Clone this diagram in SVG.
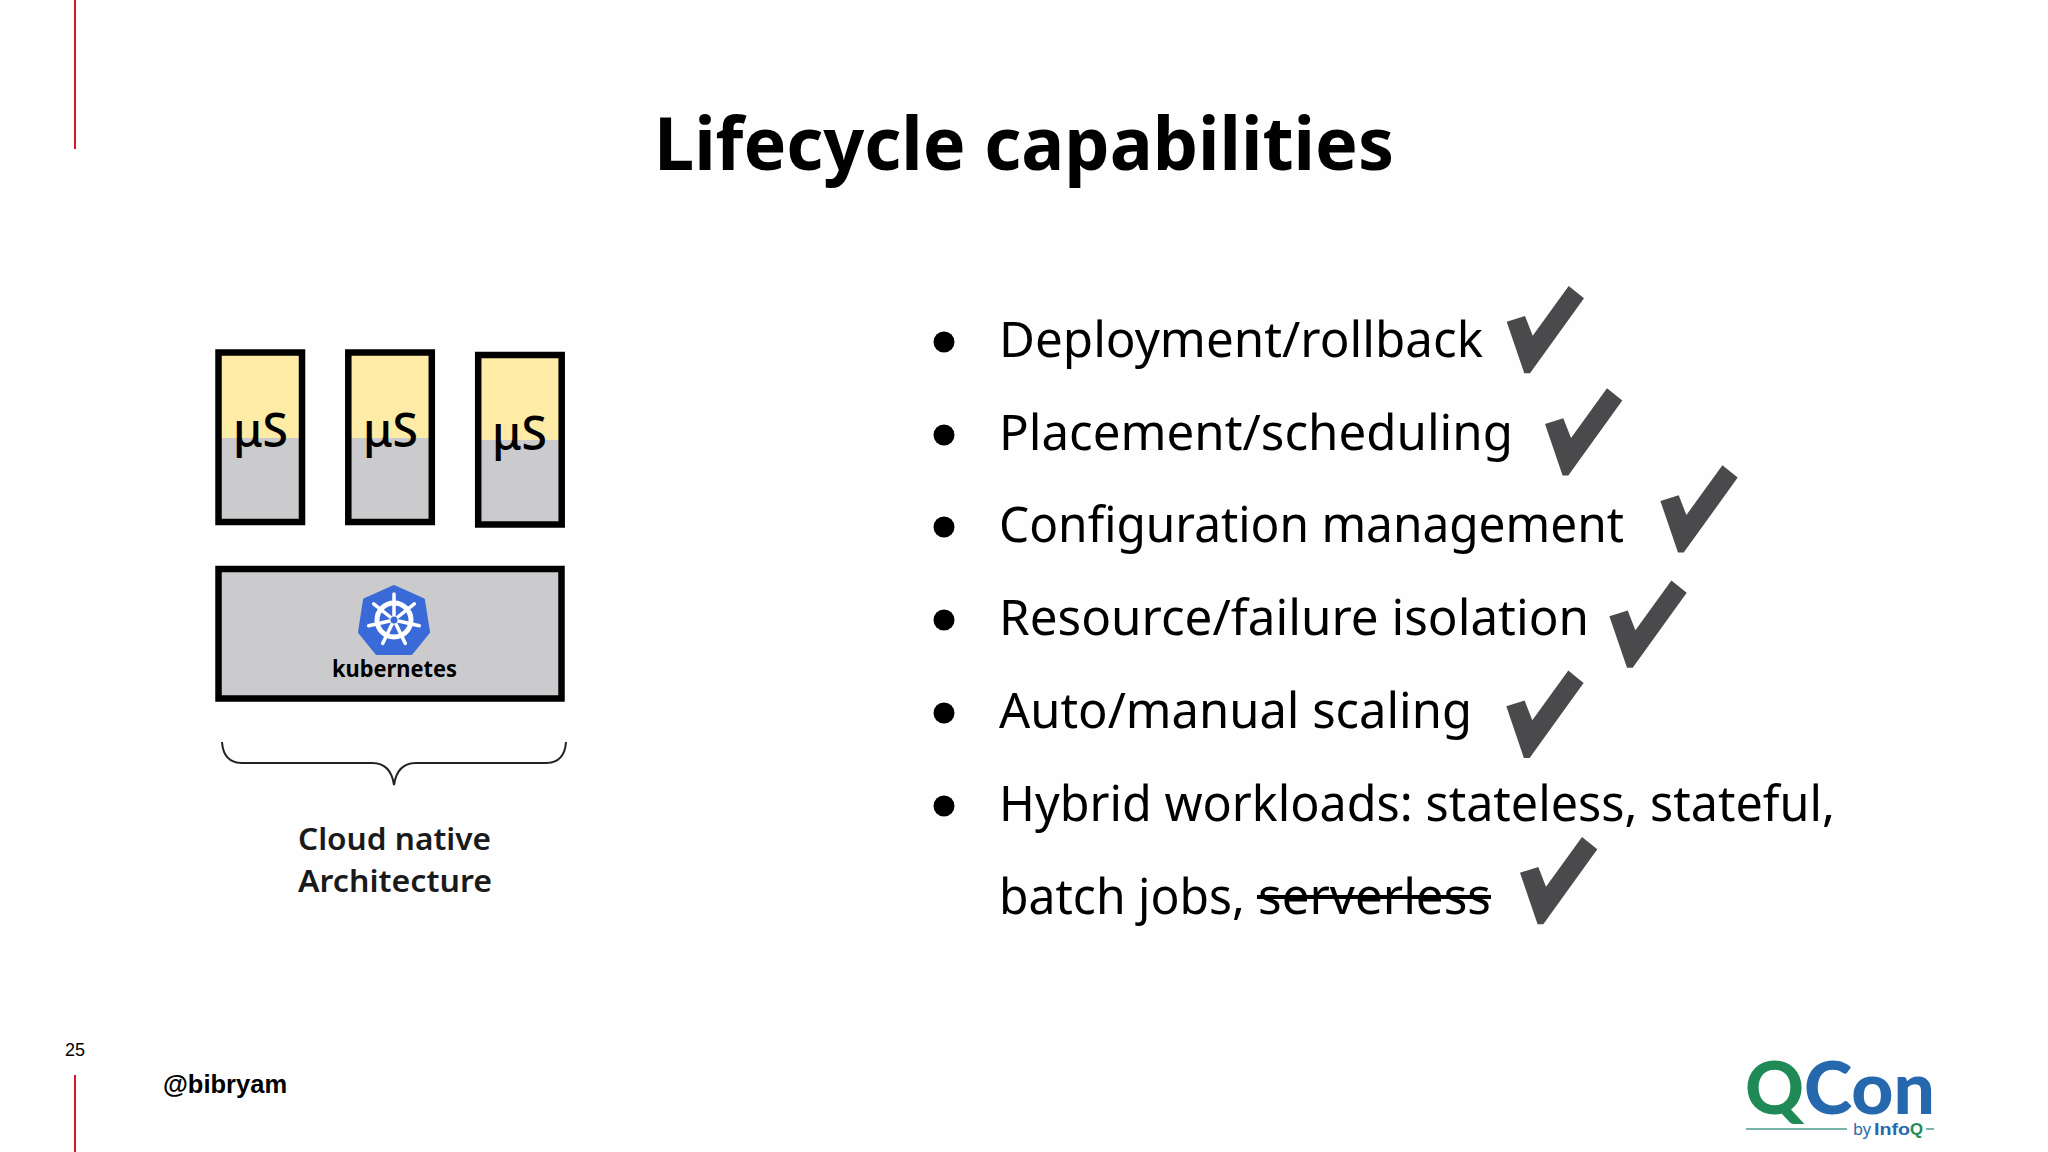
<svg xmlns="http://www.w3.org/2000/svg" width="2048" height="1152" viewBox="0 0 2048 1152">
<style>
text{font-family:"Noto Sans","Open Sans","Liberation Sans",sans-serif;fill:#000}
.title{font-size:74px;font-weight:700}
.li{font-size:49px}
.mu{font-size:47px;font-weight:500}
.cap{font-size:31px;font-weight:600;fill:#1a1a1a}
.frame{fill:none;stroke:#000;stroke-width:6.5}
.y{fill:#fdeba6}
.g{fill:#cbcbcd}
.red{stroke:#d6172b;stroke-width:2;fill:none}
.brace{fill:none;stroke:#222;stroke-width:2}
.logo{font-family:Lato,"Open Sans",sans-serif;font-weight:900;font-size:72px}
</style>
<defs>
<polygon id="check" fill="#4a4a4c" points="0,35.7 18.3,30 26,49.7 62,0 77.3,12.3 23.3,87.3 17.6,87.3"/>
</defs>
<rect width="2048" height="1152" fill="#fefefe"/>
<line class="red" x1="75" y1="0" x2="75" y2="149"/>
<line class="red" x1="75" y1="1075" x2="75" y2="1152"/>
<text id="title" class="title" x="654" y="170" textLength="740" lengthAdjust="spacingAndGlyphs">Lifecycle capabilities</text>

<g id="ms1">
<rect class="y" x="218" y="352" width="84" height="86"/><rect class="g" x="218" y="438" width="84" height="84"/>
<rect class="frame" x="218.5" y="352.5" width="83.5" height="169.5"/>
<text class="mu" x="233" y="447" textLength="55" lengthAdjust="spacingAndGlyphs">μS</text>
</g>
<g id="ms2">
<rect class="y" x="348" y="352" width="84" height="86"/><rect class="g" x="348" y="438" width="84" height="84"/>
<rect class="frame" x="348.3" y="352.5" width="83.5" height="169.5"/>
<text class="mu" x="363" y="447" textLength="55" lengthAdjust="spacingAndGlyphs">μS</text>
</g>
<g id="ms3">
<rect class="y" x="478" y="354" width="84" height="86"/><rect class="g" x="478" y="440" width="84" height="84"/>
<rect class="frame" x="478.2" y="355" width="83.5" height="169.5"/>
<text class="mu" x="492" y="450" textLength="55" lengthAdjust="spacingAndGlyphs">μS</text>
</g>
<g id="kubernetes">
<rect class="frame" style="fill:#cbcbcd" x="218.5" y="569" width="343" height="129.5"/>
<polygon points="394,587 423,600 428,632 411,653 377,653 360,632 365,600" fill="#3a6ad8" stroke="#3a6ad8" stroke-width="4" stroke-linejoin="round"/>
<g fill="none" stroke="#fff" stroke-linecap="round">
<circle cx="394" cy="620" r="17" stroke-width="5"/>
<path stroke-width="3.500" d="M394 620V594M394 620L414.300 603.800M394 620L419.300 625.800M394 620L405.300 643.400M394 620L382.700 643.400M394 620L368.700 625.800M394 620L373.700 603.800"/>
</g>
<circle cx="394" cy="620" r="3.500" fill="#3a6ad8"/>
<text x="332" y="677" font-size="24" font-weight="700" textLength="125" lengthAdjust="spacingAndGlyphs">kubernetes</text>
</g>

<g id="connectors">
<path class="brace" d="M222 742C223 756 230 763 242 763H372C385 763 392 771 394 785C396 771 403 763 416 763H546C558 763 565 756 566 742"/>
</g>
<g id="caption">
<text class="cap" x="298" y="850" textLength="193" lengthAdjust="spacingAndGlyphs">Cloud native</text>
<text class="cap" x="298" y="892" textLength="194" lengthAdjust="spacingAndGlyphs">Architecture</text>
</g>

<g id="bullets" fill="#000">
<circle cx="944" cy="342" r="10.500"/><circle cx="944" cy="435" r="10.500"/><circle cx="944" cy="527" r="10.500"/><circle cx="944" cy="620" r="10.500"/><circle cx="944" cy="713" r="10.500"/><circle cx="944" cy="806" r="10.500"/>
</g>
<g id="list">
<text class="li" x="999" y="357" textLength="484" lengthAdjust="spacingAndGlyphs">Deployment/rollback</text>
<text class="li" x="999" y="450" textLength="514" lengthAdjust="spacingAndGlyphs">Placement/scheduling</text>
<text class="li" x="999" y="542" textLength="625" lengthAdjust="spacingAndGlyphs">Configuration management</text>
<text class="li" x="999" y="635" textLength="590" lengthAdjust="spacingAndGlyphs">Resource/failure isolation</text>
<text class="li" x="999" y="728" textLength="473" lengthAdjust="spacingAndGlyphs">Auto/manual scaling</text>
<text class="li" x="999" y="821" textLength="836" lengthAdjust="spacingAndGlyphs">Hybrid workloads: stateless, stateful,</text>
<text class="li" x="999" y="914" textLength="246" lengthAdjust="spacingAndGlyphs">batch jobs,</text>
<text class="li" x="1258" y="914" textLength="233" lengthAdjust="spacingAndGlyphs">serverless</text>
<line x1="1257" y1="897" x2="1491" y2="897" stroke="#000" stroke-width="4"/>
</g>
<g id="checks">
<use href="#check" x="1506.700" y="286"/>
<use href="#check" x="1545" y="388.300"/>
<use href="#check" x="1660.400" y="465.300"/>
<use href="#check" x="1609.400" y="580.500"/>
<use href="#check" x="1506.300" y="670.600"/>
<use href="#check" x="1520" y="837"/>
</g>

<text id="page" x="75" y="1056" text-anchor="middle" style="font-family:'Liberation Sans',sans-serif;font-size:18px">25</text>
<text id="handle" x="163" y="1093" style="font-family:'Liberation Sans',sans-serif;font-size:25.500px;font-weight:700">@bibryam</text>

<g id="qcon">
<text class="logo" x="1745" y="1114" textLength="59" lengthAdjust="spacingAndGlyphs" style="fill:#1f8a55">Q</text>
<text class="logo" x="1804" y="1114" textLength="131" lengthAdjust="spacingAndGlyphs" style="fill:#2668ae">Con</text>
<line x1="1746" y1="1129" x2="1847" y2="1129" stroke="#4f9d8c" stroke-width="1.500"/>
<line x1="1926" y1="1129" x2="1934" y2="1129" stroke="#4f9d8c" stroke-width="1.500"/>
<text x="1853" y="1135" style="font-size:17px;fill:#2668ae" textLength="18" lengthAdjust="spacingAndGlyphs">by</text>
<text x="1874" y="1135" style="font-family:'Liberation Sans',sans-serif;font-size:17px;font-weight:700;fill:#2668ae" textLength="36" lengthAdjust="spacingAndGlyphs">Info</text>
<text x="1910" y="1135" style="font-family:'Liberation Sans',sans-serif;font-size:17px;font-weight:700;fill:#1f8a55" textLength="13" lengthAdjust="spacingAndGlyphs">Q</text>
</g>
</svg>
